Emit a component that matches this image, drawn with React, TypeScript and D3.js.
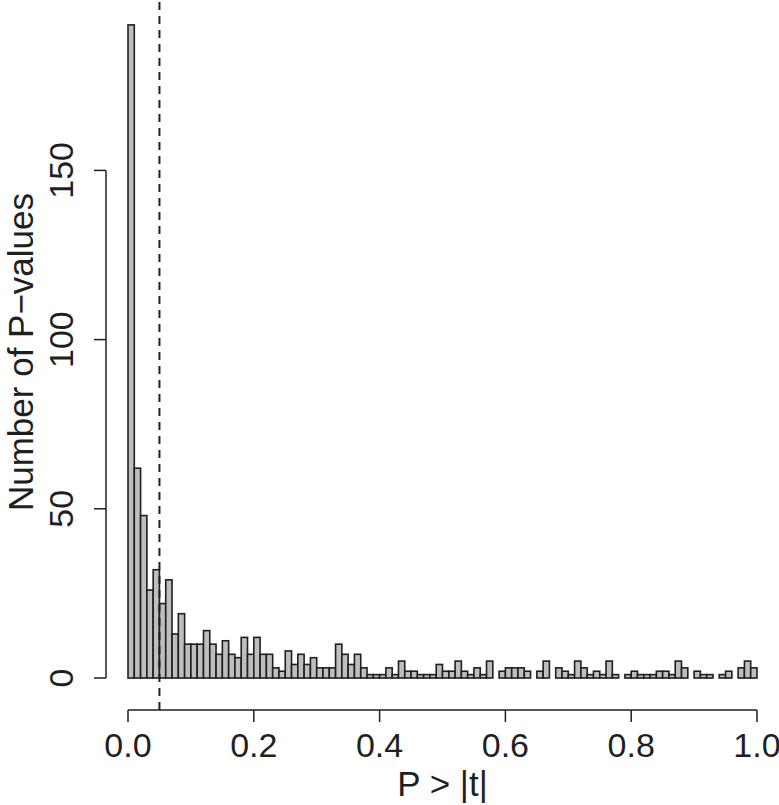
import React, { useEffect, useRef } from 'react'
import * as d3 from 'd3'

// p-value histogram, 100 bins of width 0.01 over [0, 1]
const binWidth = 0.01
const counts = [
  193, 62, 48, 26, 32, 22, 29, 13, 19, 10,
  10, 10, 14, 10, 7, 11, 7, 6, 12, 7,
  12, 7, 7, 3, 2, 8, 4, 7, 4, 6,
  3, 3, 3, 10, 7, 4, 7, 3, 1, 1,
  1, 3, 1, 5, 2, 2, 1, 1, 1, 4,
  2, 2, 5, 2, 1, 3, 1, 5, 0, 2,
  3, 3, 3, 2, 0, 2, 5, 0, 3, 2,
  1, 5, 3, 1, 2, 1, 5, 1, 0, 1,
  2, 1, 1, 1, 2, 2, 1, 5, 3, 0,
  2, 1, 1, 0, 1, 2, 0, 3, 5, 3,
]
const xTicks = [0, 0.2, 0.4, 0.6, 0.8, 1.0]
const yTicks = [0, 50, 100, 150]
const cutoff = 0.05
const xLabel = 'P > |t|'
const yLabel = 'Number of P\u2212values'

const W = 779
const H = 805
const FONT = "'Liberation Sans', Arial, Helvetica, sans-serif"
const INK = '#1f1f1f'

const Histogram = () => {
  const ref = useRef<SVGSVGElement>(null)

  useEffect(() => {
    const svg = d3.select(ref.current)
    svg.selectAll('*').remove()

    const x = d3.scaleLinear().domain([0, 1]).range([128, 757])
    const y = d3.scaleLinear().domain([0, 150]).range([678, 170.4])
    const axisY = 710 // x axis line
    const axisX = 106 // y axis line
    const tick = 12

    const bins = counts.map((c, i) => ({ x0: i * binWidth, x1: (i + 1) * binWidth, c }))

    svg // bars
      .append('g')
      .selectAll('rect')
      .data(bins)
      .join('rect')
      .attr('x', d => x(d.x0))
      .attr('y', d => y(d.c))
      .attr('width', d => x(d.x1) - x(d.x0))
      .attr('height', d => y(0) - y(d.c))
      .attr('fill', '#bebebe')
      .attr('stroke', INK)
      .attr('stroke-width', 1.6)

    svg // cutoff line
      .append('line')
      .attr('x1', x(cutoff))
      .attr('x2', x(cutoff))
      .attr('y1', 2)
      .attr('y2', axisY)
      .attr('stroke', INK)
      .attr('stroke-width', 2)
      .attr('stroke-dasharray', '8,6')

    const gx = svg.append('g').attr('stroke', INK).attr('stroke-width', 1.5)
    gx.append('line') // xaxis
      .attr('x1', x(0))
      .attr('x2', x(1))
      .attr('y1', axisY)
      .attr('y2', axisY)
    gx.selectAll('.t')
      .data(xTicks)
      .join('line')
      .attr('x1', d => x(d))
      .attr('x2', d => x(d))
      .attr('y1', axisY)
      .attr('y2', axisY + tick)

    const gy = svg.append('g').attr('stroke', INK).attr('stroke-width', 1.5)
    gy.append('line') // yaxis
      .attr('x1', axisX)
      .attr('x2', axisX)
      .attr('y1', y(0))
      .attr('y2', y(150))
    gy.selectAll('.t')
      .data(yTicks)
      .join('line')
      .attr('x1', axisX - tick)
      .attr('x2', axisX)
      .attr('y1', d => y(d))
      .attr('y2', d => y(d))

    const text = svg.append('g').attr('fill', INK).attr('font-family', FONT)

    text // x tick labels
      .selectAll('.xl')
      .data(xTicks)
      .join('text')
      .attr('x', d => x(d))
      .attr('y', 757)
      .attr('font-size', 34)
      .attr('text-anchor', 'middle')
      .text(d => d3.format('.1f')(d))

    text // y tick labels, rotated like R's las=0
      .selectAll('.yl')
      .data(yTicks)
      .join('text')
      .attr('transform', d => `translate(73, ${y(d)}) rotate(-90)`)
      .attr('font-size', 34)
      .attr('text-anchor', 'middle')
      .text(d => d)

    text
      .append('text')
      .attr('x', (x(0) + x(1)) / 2)
      .attr('y', 796)
      .attr('font-size', 35)
      .attr('text-anchor', 'middle')
      .text(xLabel)

    text
      .append('text')
      .attr('transform', `translate(33, 352) rotate(-90)`)
      .attr('font-size', 35)
      .attr('text-anchor', 'middle')
      .text(yLabel)
  }, [])

  return (
    <svg
      ref={ref}
      width={W}
      height={H}
      style={{ position: 'absolute', left: 0, top: 0, background: '#fff' }}
    />
  )
}

export default function App() {
  return <Histogram />
}
